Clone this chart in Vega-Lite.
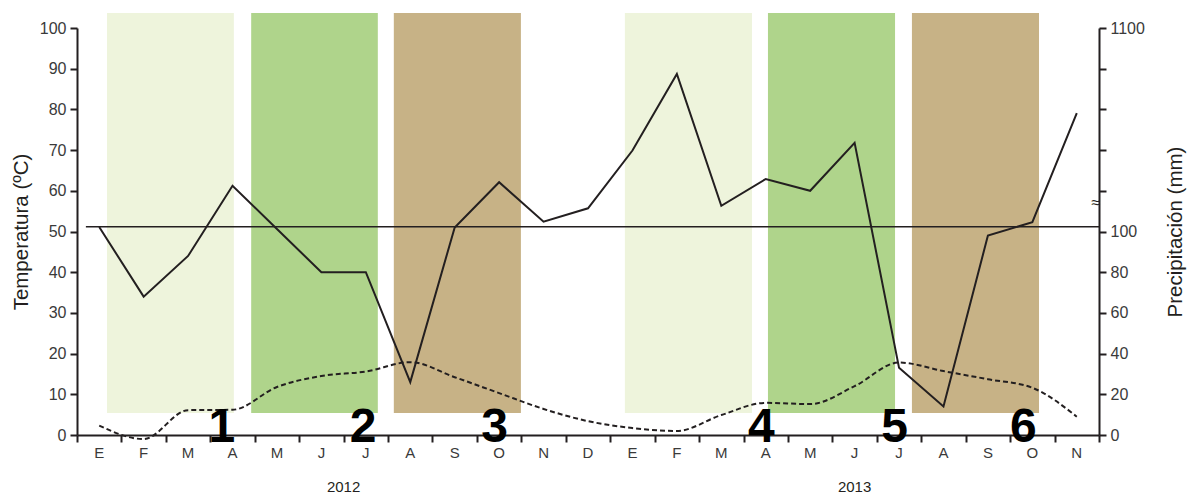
{
  "$schema": "https://vega.github.io/schema/vega-lite/v6.json",
  "autosize": {"type": "none"},
  "width": 1022,
  "height": 407,
  "padding": {"left": 77, "top": 28, "right": 91, "bottom": 59},
  "background": "white",
  "config": {
    "view": {"stroke": null},
    "font": "Liberation Sans",
    "axis": {
      "domainColor": "#231f20",
      "domainWidth": 2,
      "tickColor": "#231f20",
      "tickWidth": 2,
      "tickSize": 7,
      "labelColor": "#3a3a3a",
      "labelFont": "Liberation Sans",
      "labelFontSize": 16,
      "titleFont": "Liberation Sans",
      "titleFontWeight": "normal",
      "titleFontSize": 20.5,
      "titleColor": "#231f20",
      "grid": false,
      "labelOverlap": false,
      "labelFlush": false
    }
  },
  "datasets": {
    "meses": [
      {"n": 1, "mes": "E", "temp": 2.3, "precip": 122},
      {"n": 2, "mes": "F", "temp": -1.0, "precip": 68},
      {"n": 3, "mes": "M", "temp": 6.1, "precip": 88},
      {"n": 4, "mes": "A", "temp": 6.2, "precip": 325},
      {"n": 5, "mes": "M", "temp": 11.8, "precip": 112},
      {"n": 6, "mes": "J", "temp": 14.5, "precip": 80},
      {"n": 7, "mes": "J", "temp": 15.6, "precip": 80},
      {"n": 8, "mes": "A", "temp": 17.9, "precip": 26},
      {"n": 9, "mes": "S", "temp": 14.2, "precip": 120},
      {"n": 10, "mes": "O", "temp": 10.3, "precip": 342},
      {"n": 11, "mes": "N", "temp": 6.4, "precip": 148},
      {"n": 12, "mes": "D", "temp": 3.4, "precip": 214},
      {"n": 13, "mes": "E", "temp": 1.7, "precip": 498},
      {"n": 14, "mes": "F", "temp": 1.0, "precip": 874},
      {"n": 15, "mes": "M", "temp": 4.9, "precip": 226},
      {"n": 16, "mes": "A", "temp": 7.9, "precip": 358},
      {"n": 17, "mes": "M", "temp": 7.6, "precip": 300},
      {"n": 18, "mes": "J", "temp": 12.0, "precip": 536},
      {"n": 19, "mes": "J", "temp": 17.8, "precip": 33},
      {"n": 20, "mes": "A", "temp": 15.7, "precip": 14},
      {"n": 21, "mes": "S", "temp": 13.7, "precip": 98},
      {"n": 22, "mes": "O", "temp": 11.6, "precip": 146},
      {"n": 23, "mes": "N", "temp": 4.5, "precip": 682}
    ],
    "fases": [
      {"fase": "a", "inicio": 1.175, "fin": 4.03, "etiqueta": "1", "pos": 3.76},
      {"fase": "b", "inicio": 4.42, "fin": 7.27, "etiqueta": "2", "pos": 6.94},
      {"fase": "c", "inicio": 7.63, "fin": 10.49, "etiqueta": "3", "pos": 9.9},
      {"fase": "a", "inicio": 12.83, "fin": 15.69, "etiqueta": "4", "pos": 15.9},
      {"fase": "b", "inicio": 16.05, "fin": 18.91, "etiqueta": "5", "pos": 18.9},
      {"fase": "c", "inicio": 19.29, "fin": 22.15, "etiqueta": "6", "pos": 21.8}
    ],
    "anios": [
      {"anio": "2012", "centro": 6.5},
      {"anio": "2013", "centro": 18}
    ]
  },
  "layer": [
    {
      "layer": [
        {
          "data": {"name": "fases"},
          "mark": {"type": "rect"},
          "encoding": {
            "x": {"field": "inicio", "type": "quantitative",
              "scale": {"domain": [0.5, 23.5], "nice": false, "zero": false},
              "axis": {
                "title": null,
                "values": [0.5, 1.5, 2.5, 3.5, 4.5, 5.5, 6.5, 7.5, 8.5, 9.5, 10.5, 11.5, 12.5, 13.5, 14.5, 15.5, 16.5, 17.5, 18.5, 19.5, 20.5, 21.5, 22.5, 23.5],
                "labels": false
              }},
            "x2": {"field": "fin"},
            "y": {"datum": 5.4, "type": "quantitative", "scale": {"domain": [0, 100], "nice": false},
              "axis": {"title": "Temperatura (ºC)", "values": [0, 10, 20, 30, 40, 50, 60, 70, 80, 90, 100], "titlePadding": 8, "labelPadding": 4}},
            "y2": {"datum": 103.7},
            "color": {"field": "fase", "type": "nominal", "legend": null,
              "scale": {"domain": ["a", "b", "c"], "range": ["#eef4dc", "#afd48b", "#c7b286"]}}
          }
        },
        {
          "data": {"name": "meses"},
          "mark": {"type": "line", "interpolate": "monotone", "color": "#231f20", "strokeWidth": 2, "strokeDash": [5, 3]},
          "encoding": {
            "x": {"field": "n", "type": "quantitative"},
            "y": {"field": "temp", "type": "quantitative"}
          }
        },
        {
          "data": {"values": [{}]},
          "mark": {"type": "rule", "color": "#231f20", "strokeWidth": 1.5},
          "encoding": {
            "x": {"datum": 0.7, "type": "quantitative"},
            "x2": {"datum": 23.5},
            "y": {"datum": 51.15, "type": "quantitative"}
          }
        },
        {
          "data": {"name": "meses"},
          "mark": {"type": "text", "font": "Liberation Sans", "fontSize": 15, "color": "#3a3a3a", "baseline": "middle", "align": "center"},
          "encoding": {
            "x": {"field": "n", "type": "quantitative"},
            "y": {"datum": -4.4, "type": "quantitative"},
            "text": {"field": "mes"}
          }
        },
        {
          "data": {"name": "fases"},
          "mark": {"type": "text", "font": "Liberation Sans", "fontWeight": "bold", "fontSize": 48, "color": "#000000", "baseline": "alphabetic", "align": "center"},
          "encoding": {
            "x": {"field": "pos", "type": "quantitative"},
            "y": {"datum": -1.6, "type": "quantitative"},
            "text": {"field": "etiqueta"}
          }
        },
        {
          "data": {"name": "anios"},
          "mark": {"type": "text", "font": "Liberation Sans", "fontSize": 15, "color": "#231f20", "baseline": "middle", "align": "center"},
          "encoding": {
            "x": {"field": "centro", "type": "quantitative"},
            "y": {"datum": -12.8, "type": "quantitative"},
            "text": {"field": "anio"}
          }
        },
        {
          "data": {"values": [{"simbolo": "≈"}]},
          "mark": {"type": "text", "fontSize": 16, "color": "#231f20", "baseline": "middle", "align": "center", "dx": -3},
          "encoding": {
            "x": {"datum": 23.5, "type": "quantitative"},
            "y": {"datum": 57, "type": "quantitative"},
            "text": {"field": "simbolo"}
          }
        }
      ]
    },
    {
      "data": {"name": "meses"},
      "mark": {"type": "line", "color": "#231f20", "strokeWidth": 2},
      "encoding": {
        "x": {"field": "n", "type": "quantitative"},
        "y": {"field": "precip", "type": "quantitative",
          "scale": {"domain": [0, 100, 1100], "range": [407, 203.5, 0], "nice": false, "zero": false},
          "axis": {
            "orient": "right",
            "title": "Precipitación (mm)",
            "titleAngle": 270,
            "format": "d",
            "values": [0, 20, 40, 60, 80, 100, 300, 500, 700, 900, 1100],
            "labelExpr": "datum.value <= 100 || datum.value == 1100 ? datum.label : ''",
            "titlePadding": 41,
            "labelPadding": 4
          }}
      }
    }
  ],
  "resolve": {"scale": {"y": "independent"}, "axis": {"y": "independent"}}
}
